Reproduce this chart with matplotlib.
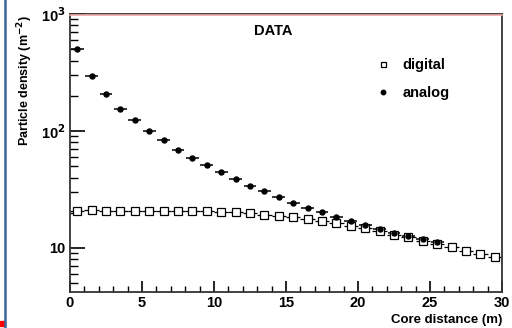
import matplotlib.pyplot as plt
import matplotlib.ticker as mticker
from matplotlib.lines import Line2D
from matplotlib.patches import Rectangle
import numpy as np

plt.rcParams["font.family"] = ["Liberation Sans", "DejaVu Sans"]
plt.rcParams["font.weight"] = "bold"

# bin centres (m) and densities (m^-2)
digital_x = [0.5, 1.5, 2.5, 3.5, 4.5, 5.5, 6.5, 7.5, 8.5, 9.5,
             10.5, 11.5, 12.5, 13.5, 14.5, 15.5, 16.5, 17.5, 18.5, 19.5,
             20.5, 21.5, 22.5, 23.5, 24.5, 25.5, 26.5, 27.5, 28.5, 29.5]
digital_y = [20.7, 21.3, 20.7, 20.7, 20.7, 20.7, 20.7, 20.7, 20.7, 20.7,
             20.3, 20.3, 19.7, 19.3, 18.8, 18.3, 17.8, 17.0, 16.3, 15.5,
             14.7, 14.0, 13.0, 12.4, 11.5, 10.7, 10.2, 9.4, 8.85, 8.3]

analog_x = [0.5, 1.5, 2.5, 3.5, 4.5, 5.5, 6.5, 7.5, 8.5, 9.5,
            10.5, 11.5, 12.5, 13.5, 14.5, 15.5, 16.5, 17.5, 18.5, 19.5,
            20.5, 21.5, 22.5, 23.5, 24.5, 25.5]
analog_y = [506, 297, 206, 155, 123, 100, 83, 69, 58.8, 51.2,
            44.7, 38.7, 33.9, 30.7, 27.1, 24.4, 22.1, 20.1, 18.4, 16.9,
            15.6, 14.6, 13.5, 12.7, 12.0, 11.25]

fig = plt.figure(figsize=(5.12, 3.28), dpi=100)
ax = fig.add_axes([70 / 512, 1 - 292 / 328, 432 / 512, 278 / 328])

ax.errorbar(digital_x, digital_y, xerr=0.5, fmt="s", ms=5.2, mfc="white",
            mec="black", mew=0.9, ecolor="black", elinewidth=0.9, capsize=0)
ax.errorbar(analog_x, analog_y, xerr=0.45, fmt="o", ms=3.6, mfc="black",
            mec="black", ecolor="black", elinewidth=1.1, capsize=0)

ax.set_yscale("log")
ax.set_xlim(0, 30)
ax.set_ylim(4.2, 1000)

ax.xaxis.set_major_locator(mticker.MultipleLocator(5))
ax.xaxis.set_minor_locator(mticker.MultipleLocator(1))
ax.yaxis.set_major_locator(mticker.FixedLocator([10, 100, 1000]))
ax.yaxis.set_minor_locator(mticker.LogLocator(subs=np.arange(2, 10)))
ax.yaxis.set_minor_formatter(mticker.NullFormatter())
ax.yaxis.set_major_formatter(mticker.FixedFormatter(["10", "10$^2$", "10$^3$"]))

ax.tick_params(which="major", direction="in", length=8, width=1.2,
               labelsize=10.5, pad=3)
ax.tick_params(which="minor", direction="in", length=4, width=1.0)
ax.tick_params(axis="y", which="major", length=11)
ax.tick_params(axis="y", which="minor", length=6)
ax.tick_params(top=False, right=False, which="both")

for s in ax.spines.values():
    s.set_color("#333333")
    s.set_linewidth(1.3)

ax.text(0.47, 0.94, "DATA", transform=ax.transAxes, ha="center", va="center",
        fontsize=10.5, fontweight="bold")

handles = [
    Line2D([], [], ls="none", marker="s", ms=3.6, mfc="white", mec="black",
           mew=0.9, label="digital"),
    Line2D([], [], ls="none", marker="o", ms=3.2, mfc="black", mec="black",
           label="analog"),
]
ax.legend(handles=handles, loc="upper left", bbox_to_anchor=(0.715, 0.84),
          frameon=False, handlelength=0.6, handletextpad=1.0,
          labelspacing=0.9, borderaxespad=0, borderpad=0,
          prop={"weight": "bold", "size": 10.5})

ax.set_ylabel("Particle density (m$^{-2}$)", fontsize=9, fontweight="bold")
ax.yaxis.set_label_coords(-0.081, 0.76)
fig.text(502 / 512, 1 - 320 / 328, "Core distance (m)", ha="right",
         va="center", fontsize=9.5, fontweight="bold")

# pink rule under the top frame, slide border on the left
fig.add_artist(Line2D([70 / 512, 502 / 512], [1 - 15.3 / 328] * 2,
                      color="#f2a6a6", lw=1.2))
fig.add_artist(Line2D([5 / 512, 5 / 512], [0, 1], color="#3c659c", lw=1.8))
fig.add_artist(Rectangle((0, 1 - 326 / 328), 4.5 / 512, 4.7 / 328,
                         color="red", transform=fig.transFigure))

fig.savefig("out.png", dpi=100, facecolor="white")
